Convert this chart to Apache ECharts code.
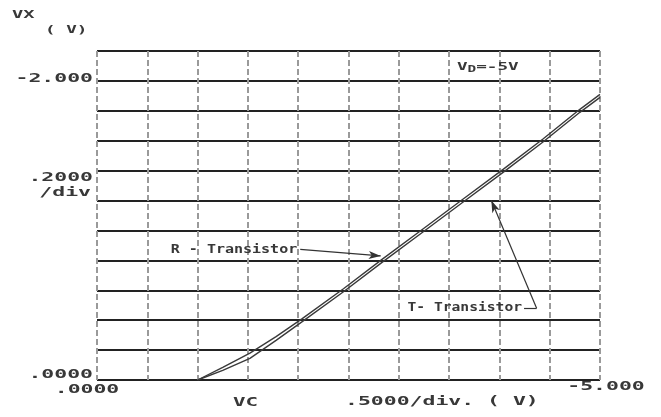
<!DOCTYPE html>
<html>
<head>
<meta charset="utf-8">
<script src="https://cdn.jsdelivr.net/npm/echarts/dist/echarts.min.js"></script>
<style>html,body{margin:0;padding:0;background:#fff;}#c{width:661px;height:417px;}</style>
</head>
<body>
<div id="c"></div>
<script>
// ---- data (VC in volts, VX in volts) ----
const vcR = [-1.0, -1.25, -1.52, -1.78, -2.04, -2.45, -2.84, -3.24, -3.64, -4.04, -4.43, -4.80, -5.0];
const vxR = [0, -0.085, -0.18, -0.29, -0.41, -0.61, -0.81, -1.01, -1.21, -1.41, -1.61, -1.81, -1.91];
const vcT = [-1.0, -1.25, -1.52, -1.78, -2.04, -2.45, -2.84, -3.24, -3.64, -4.04, -4.43, -4.80, -5.0];
const vxT = [0, -0.065, -0.145, -0.265, -0.39, -0.59, -0.79, -0.99, -1.19, -1.39, -1.59, -1.79, -1.89];

// tick labels
const yTickValues = [-2.0, 0];
const yTickTexts = ['-2.000', '.0000'];
const yScaleTexts = ['.2000', '/div'];
const xTickValues = [0, -5];
const xTickTexts = ['.0000', '-5.000'];
const xTitleTexts = ['VC', '.5000/div. ( V)'];
const yTitleTexts = ['VX', '( V)'];
const condText = ['V', 'D', '=-5V'];

// annotations (data coordinates)
const rLabel = {text: 'R - Transistor', at: [-1.99, -0.867]};
const rArrow = [[-2.02, -0.873], [-2.82, -0.83]];
const tLabel = {text: 'T- Transistor', at: [-4.225, -0.48]};
const tTick = [[-4.245, -0.48], [-4.37, -0.48]];
const tArrow = [[-4.37, -0.48], [-3.92, -1.20]];

const zip = (a, b) => a.map((v, i) => [v, b[i]]);

const chart = echarts.init(document.getElementById('c'));
const INK = '#383838';
const option = {
  animation: false,
  backgroundColor: '#ffffff',
  grid: {left: 97, right: 61, top: 51, bottom: 37},
  xAxis: {
    type: 'value', min: -5, max: 0, interval: 0.5, inverse: true,
    axisLine: {show: false}, axisTick: {show: false}, axisLabel: {show: false},
    splitLine: {show: true, lineStyle: {color: '#9a9a9a', width: 2, type: [6, 3]}}
  },
  yAxis: {
    type: 'value', min: -2.2, max: 0, interval: 0.2, inverse: true,
    axisLine: {show: false}, axisTick: {show: false}, axisLabel: {show: false},
    splitLine: {show: true, lineStyle: {color: '#222222', width: 1.8, type: 'solid'}}
  },
  series: [
    {
      type: 'line', name: 'R-Transistor', data: zip(vcR, vxR), showSymbol: false,
      lineStyle: {color: '#3a3a3a', width: 1.4},
      markLine: {
        silent: true, symbol: ['none', 'arrow'], symbolSize: [6, 12],
        lineStyle: {color: '#333', width: 1.2, type: 'solid'}, label: {show: false},
        data: [
          [{coord: rArrow[0]}, {coord: rArrow[1]}],
          [{coord: tTick[0], symbol: 'none'}, {coord: tTick[1], symbol: 'none'}],
          [{coord: tArrow[0]}, {coord: tArrow[1]}]
        ]
      }
    },
    {
      type: 'line', name: 'T-Transistor', data: zip(vcT, vxT), showSymbol: false,
      lineStyle: {color: '#3a3a3a', width: 1.4}
    }
  ]
};
chart.setOption(option);

const px = (x, y) => chart.convertToPixel({gridIndex: 0}, [x, y]);
function txt(x, y, text, align, size, sx) {
  return {
    type: 'text', x: x, y: y, scaleX: sx, silent: true,
    style: {text: text, align: align, verticalAlign: 'middle', fontFamily: 'DejaVu Sans Mono',
            fontWeight: 'bold', fontSize: size, fill: INK}
  };
}
const g = [];
const left = px(0, 0)[0];
yTickValues.forEach((v, i) => {
  const p = px(0, v);
  g.push(txt(left - 4, p[1] - (v === 0 ? 5 : 2), yTickTexts[i], 'right', 13, 1.65));
});
g.push(txt(left - 4, px(0, -1.35)[1], yScaleTexts[0], 'right', 13, 1.65));
g.push(txt(left - 6, px(0, -1.25)[1], yScaleTexts[1], 'right', 13, 1.65));
xTickValues.forEach((v, i) => {
  const p = px(v, 0);
  g.push(txt(p[0] + (v === 0 ? -10 : 6), p[1] + (v === 0 ? 10 : 7), xTickTexts[i], 'center', 13, 1.65));
});
g.push(txt(233, 403, xTitleTexts[0], 'left', 13, 1.6));
g.push(txt(345, 402, xTitleTexts[1], 'left', 13, 1.65));
g.push(txt(12, 15, yTitleTexts[0], 'left', 11, 1.7));
g.push(txt(45, 30, yTitleTexts[1], 'left', 11, 1.6));
// annotations
const rp = px(rLabel.at[0], rLabel.at[1]);
g.push(txt(rp[0], rp[1], rLabel.text, 'right', 12, 1.25));
const tp = px(tLabel.at[0], tLabel.at[1]);
g.push(txt(tp[0], tp[1], tLabel.text, 'right', 12, 1.22));
// condition label V_D=-5V
g.push({
  type: 'text', x: 457, y: 67, scaleX: 1.6, silent: true,
  style: {
    text: '{a|' + condText[0] + '}{b|' + condText[1] + '}{a|' + condText[2] + '}',
    verticalAlign: 'middle', align: 'left',
    rich: {
      a: {fontFamily: 'DejaVu Sans Mono', fontWeight: 'bold', fontSize: 11, fill: INK, color: INK},
      b: {fontFamily: 'DejaVu Sans Mono', fontWeight: 'bold', fontSize: 9, fill: INK, color: INK, padding: [6, 0, 0, 0]}
    }
  }
});
chart.setOption({graphic: g});
</script>
</body>
</html>
